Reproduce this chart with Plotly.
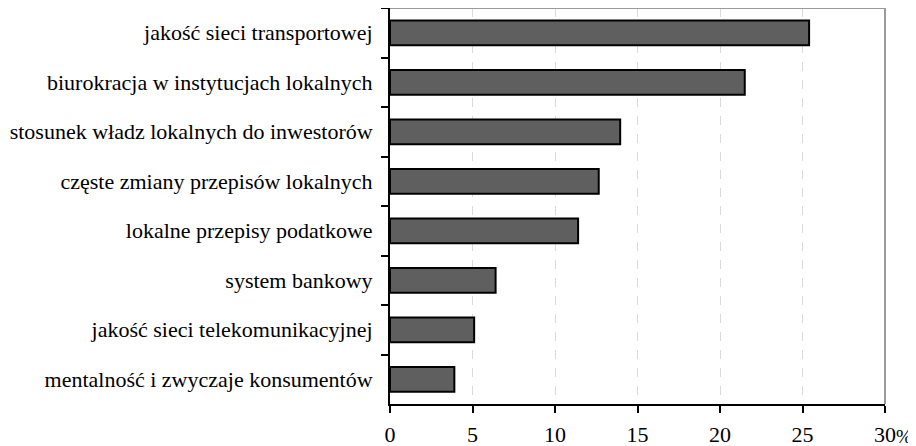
import plotly.graph_objects as go

categories = [
    "jakość sieci transportowej",
    "biurokracja w instytucjach lokalnych",
    "stosunek władz lokalnych do inwestorów",
    "częste zmiany przepisów lokalnych",
    "lokalne przepisy podatkowe",
    "system bankowy",
    "jakość sieci telekomunikacyjnej",
    "mentalność i zwyczaje konsumentów",
]
values = [25.4, 21.5, 13.95, 12.65, 11.4, 6.4, 5.1, 3.9]
x_ticks = [0, 5, 10, 15, 20, 25, 30]
x_ticklabels = ["0", "5", "10", "15", "20", "25", "30"]

font_family = "Liberation Serif"
FS = 22

fig = go.Figure(
    go.Bar(
        x=values,
        y=categories,
        orientation="h",
        width=0.5,
        marker=dict(color="#5f5f5f", line=dict(color="#000000", width=2)),
    )
)

fig.update_layout(
    width=908,
    height=438,
    margin=dict(l=382, r=31, t=0, b=42, autoexpand=False),
    paper_bgcolor="white",
    plot_bgcolor="white",
    showlegend=False,
    font=dict(family=font_family, size=FS, color="#000000"),
    xaxis=dict(
        range=[0, 30],
        tickvals=x_ticks,
        ticktext=x_ticklabels,
        showline=True,
        linecolor="#000000",
        linewidth=2,
        ticks="outside",
        ticklen=7,
        tickwidth=2,
        tickcolor="#000000",
        showgrid=True,
        gridcolor="#dadada",
        gridwidth=1,
        griddash="dash",
        zeroline=False,
        ticklabelstandoff=3,
        automargin=False,
    ),
    yaxis=dict(
        categoryorder="array",
        categoryarray=categories,
        autorange="reversed",
        showline=True,
        linecolor="#000000",
        linewidth=2,
        ticks="outside",
        tickson="boundaries",
        ticklen=7,
        tickwidth=2,
        tickcolor="#000000",
        showgrid=False,
        zeroline=False,
        ticklabelstandoff=11,
        automargin=False,
    ),
    shapes=[
        dict(type="line", xref="paper", yref="paper", x0=0, x1=1, y0=1, y1=1,
             line=dict(color="#9a9a9a", width=2)),
        dict(type="line", xref="paper", yref="paper", x0=1, x1=1, y0=0, y1=1,
             line=dict(color="#9a9a9a", width=2)),
    ],
    annotations=[
        dict(text="%", x=30, xref="x", y=0, yref="paper", xanchor="left",
             yanchor="middle", xshift=11, yshift=-32, showarrow=False,
             borderpad=0, borderwidth=0,
             font=dict(family=font_family, size=19, color="#000000")),
    ],
)

fig.write_html("out.html")
